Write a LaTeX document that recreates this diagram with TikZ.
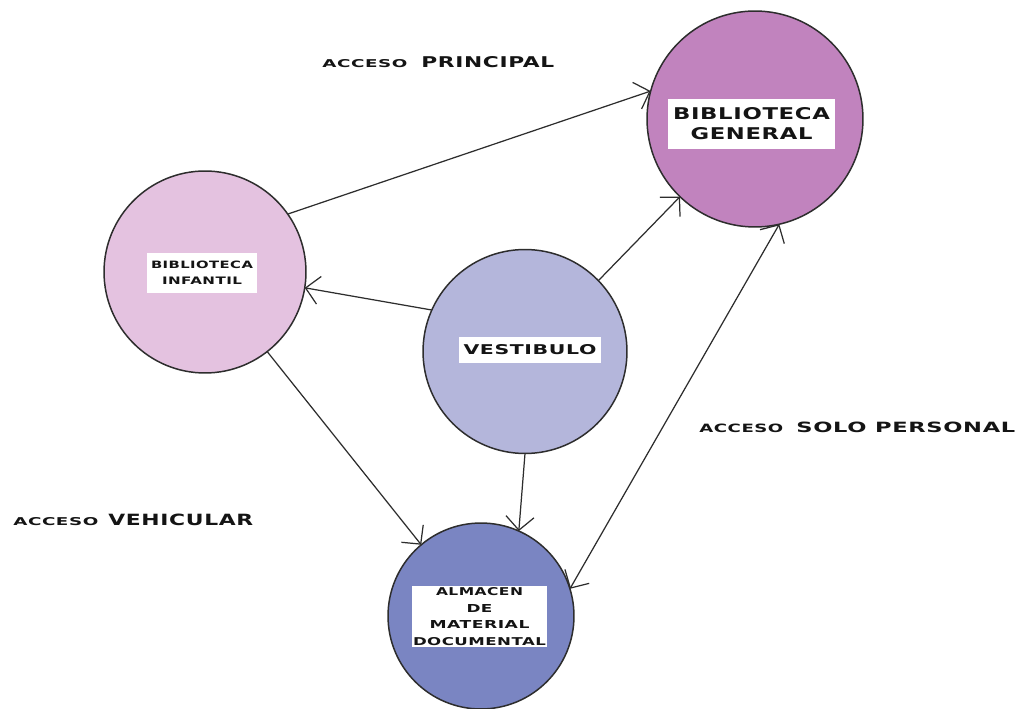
\documentclass[tikz,border=0pt]{standalone}
\usepackage{fontspec}
\usepackage{graphicx}
\setmainfont{DejaVu Sans}
\newfontfamily\lblfont[LetterSpace=3]{DejaVu Sans}
\usetikzlibrary{arrows.meta}
\definecolor{genfill}{RGB}{193,131,190}
\definecolor{inffill}{RGB}{228,194,224}
\definecolor{vesfill}{RGB}{180,182,219}
\definecolor{almfill}{RGB}{122,133,194}
\definecolor{linegray}{RGB}{45,45,45}
\definecolor{txtblack}{RGB}{20,20,20}
\begin{document}
\begin{tikzpicture}[x=0.02cm,y=-0.02cm,
  room/.style={circle, draw=linegray, line width=0.85pt, minimum size=#1, inner sep=0pt, outer sep=0pt},
  tbox/.style={fill=white, inner sep=0pt, align=center, text=txtblack},
  outlbl/.style={anchor=base west, inner sep=0pt, text=txtblack, font=\lblfont\bfseries},
  barb/.tip={Straight Barb[length=0.27cm,width=0.56cm]},
  conn/.style={draw=linegray, line width=0.7pt, -barb},
  dconn/.style={draw=linegray, line width=0.7pt, barb-barb}]
\fill[white] (0,0) rectangle (1020,709);
\useasboundingbox (0,0) rectangle (1020,709);

% rooms
\node[room=4.32cm, fill=genfill] (gen) at (755,119) {};
\node[room=4.04cm, fill=inffill] (inf) at (205,272) {};
\node[room=4.08cm, fill=vesfill] (ves) at (525,351.5) {};
\node[room=3.72cm, fill=almfill] (alm) at (481,616) {};

% text boxes
\node[tbox, minimum width=3.34cm, minimum height=1.0cm, font=\lblfont\bfseries\fontsize{10pt}{0.4cm}\selectfont] (gentxt) at (751.5,124)
  {\resizebox{3.14cm}{0.24cm}{BIBLIOTECA}\\\resizebox{2.44cm}{0.24cm}{GENERAL}};
\node[tbox, minimum width=2.2cm, minimum height=0.8cm, font=\lblfont\bfseries\fontsize{8pt}{0.32cm}\selectfont] (inftxt) at (202,273)
  {\resizebox{2.04cm}{0.15cm}{BIBLIOTECA}\\\resizebox{1.6cm}{0.15cm}{INFANTIL}};
\node[tbox, minimum width=2.84cm, minimum height=0.52cm, font=\lblfont\bfseries\fontsize{10pt}{0.4cm}\selectfont] (vestxt) at (530,350)
  {\resizebox{2.66cm}{0.2cm}{VESTIBULO}};
\node[tbox, minimum width=2.7cm, minimum height=1.22cm, font=\lblfont\bfseries\fontsize{8pt}{0.33cm}\selectfont] (almtxt) at (479.5,616.5)
  {\resizebox{1.74cm}{0.16cm}{ALMACEN}\\\resizebox{0.52cm}{0.16cm}{DE}\\\resizebox{2.0cm}{0.16cm}{MATERIAL}\\\resizebox{2.66cm}{0.16cm}{DOCUMENTAL}};

% access labels
\node[outlbl] (accp) at (322,68)
  {\resizebox{1.70cm}{0.16cm}{ACCESO}\hspace{0.28cm}\resizebox{2.66cm}{0.22cm}{PRINCIPAL}};
\node[outlbl] (accv) at (13,525)
  {\resizebox{1.70cm}{0.16cm}{ACCESO}\hspace{0.2cm}\resizebox{2.90cm}{0.23cm}{VEHICULAR}};
\node[outlbl] (accs) at (699,432)
  {\resizebox{1.68cm}{0.17cm}{ACCESO}\hspace{0.26cm}\resizebox{4.38cm}{0.21cm}{SOLO PERSONAL}};

% connectors
\draw[conn] (inf.35) -- (gen.165);
\draw[conn] (ves.156) -- (inf.-9);
\draw[conn] (ves.44) -- (gen.-134);
\draw[conn] (inf.-52) -- (alm.130);
\draw[conn] (ves.-90) -- (alm.66);
\draw[dconn] (gen.-77) -- (alm.17.5);
\end{tikzpicture}
\end{document}
